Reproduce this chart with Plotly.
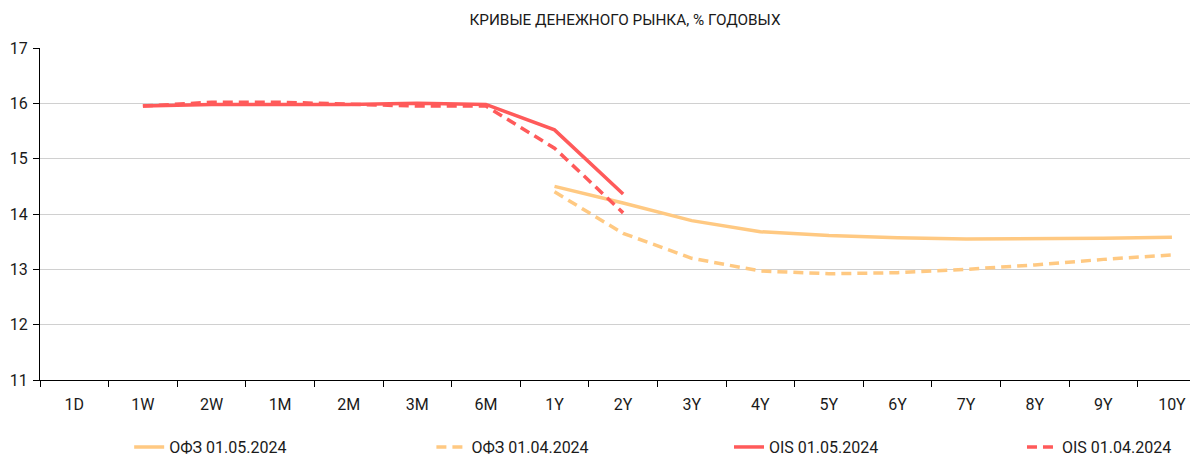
import plotly.graph_objects as go

categories = ["1D", "1W", "2W", "1M", "2M", "3M", "6M", "1Y", "2Y", "3Y", "4Y", "5Y", "6Y", "7Y", "8Y", "9Y", "10Y"]

ofz_0105 = [None, None, None, None, None, None, None, 14.50, 14.20, 13.88, 13.68, 13.61, 13.57, 13.55, 13.55, 13.56, 13.58]
ofz_0104 = [None, None, None, None, None, None, None, 14.40, 13.65, 13.20, 12.97, 12.92, 12.94, 13.00, 13.08, 13.18, 13.26]
ois_0105 = [None, 15.95, 15.98, 15.98, 15.98, 16.00, 15.98, 15.52, 14.36, None, None, None, None, None, None, None, None]
ois_0104 = [None, 15.95, 16.02, 16.02, 15.98, 15.95, 15.95, 15.19, 14.02, None, None, None, None, None, None, None, None]

series_names = ["ОФЗ 01.05.2024", "ОФЗ 01.04.2024", "OIS 01.05.2024", "OIS 01.04.2024"]

ORANGE = "#FFC982"
RED = "#FF5A5A"
FONT = "Roboto, sans-serif"
TXT = "#1a1a1a"

fig = go.Figure()
styles = [
    (ofz_0105, ORANGE, "solid"),
    (ofz_0104, ORANGE, "10px,6px"),
    (ois_0105, RED, "solid"),
    (ois_0104, RED, "10px,6px"),
]
legend_ids = ["legend", "legend2", "legend3", "legend4"]
legend_x = [0.077, 0.338, 0.595, 0.848]
for name, (vals, color, dash), lid in zip(series_names, styles, legend_ids):
    fig.add_trace(go.Scatter(
        x=categories, y=vals, name=name, mode="lines",
        line=dict(color=color, width=3.5, dash=dash),
        connectgaps=False, legend=lid,
    ))

legend_common = dict(orientation="h", xanchor="left", y=-0.202, yanchor="middle",
                     font=dict(size=16, color=TXT), bgcolor="rgba(0,0,0,0)")

# The page body has an 8px margin, so the figure is sized to fit the rest of the window.
fig.update_layout(
    width=1190, height=449,
    margin=dict(l=32, r=0, t=40, b=77, autoexpand=False),
    paper_bgcolor="white", plot_bgcolor="white",
    font=dict(family=FONT, size=16, color=TXT),
    title=dict(text="КРИВЫЕ ДЕНЕЖНОГО РЫНКА, % ГОДОВЫХ", x=0.5185, xref="container", xanchor="center",
               y=0.973, yref="container", yanchor="middle", font=dict(size=15.3, color=TXT)),
    showlegend=True,
    legend=dict(x=legend_x[0], **legend_common),
    legend2=dict(x=legend_x[1], **legend_common),
    legend3=dict(x=legend_x[2], **legend_common),
    legend4=dict(x=legend_x[3], **legend_common),
)
fig.update_xaxes(
    type="category", categoryorder="array", categoryarray=categories,
    range=[-0.5, 16.38],
    showline=True, linecolor="black", linewidth=1,
    ticks="outside", tickson="boundaries", ticklen=6, tickcolor="black",
    showgrid=False, zeroline=False,
    ticklabelstandoff=10,
    tickfont=dict(size=16),
)
fig.update_yaxes(
    range=[11, 17], dtick=1,
    showline=True, linecolor="black", linewidth=1,
    ticks="outside", ticklen=6, tickcolor="black",
    showgrid=True, gridcolor="#D0D0D0", gridwidth=1,
    zeroline=False, ticklabelstandoff=2,
    tickfont=dict(size=16),
)

fig.write_html("out.html")
